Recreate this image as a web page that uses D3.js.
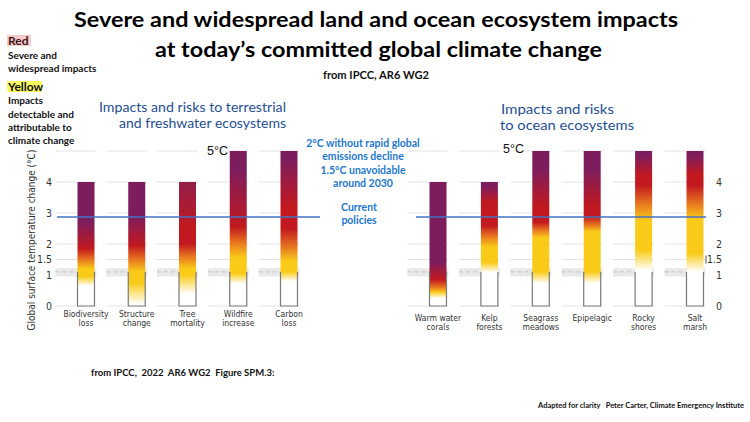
<!DOCTYPE html>
<html>
<head>
<meta charset="utf-8">
<script src="https://cdn.jsdelivr.net/npm/d3@7/dist/d3.min.js"></script>
<style>
  html, body { margin: 0; padding: 0; background: #ffffff; }
  svg { display: block; }
</style>
</head>
<body>
<svg id="chart" width="750" height="422"></svg>
<script>
// ---------------- DATA ----------------
const leftCategories = [["Biodiversity", "loss"], ["Structure", "change"], ["Tree", "mortality"], ["Wildfire", "increase"], ["Carbon", "loss"]];
const leftTops = [4, 4, 4, 5, 5];
const leftStops = [
  [[0.65, "w"], [0.95, "y"], [1.2, "y"], [1.5, "o"], [1.85, "r"], [2.7, "p"], [4, "p"]],
  [[0.05, "w"], [0.75, "y"], [1.1, "y"], [1.5, "o"], [1.95, "r"], [2.9, "p"], [4, "p"]],
  [[0.4, "w"], [1.0, "y"], [1.2, "y"], [1.6, "o"], [2.0, "r"], [2.5, "r"], [4, "c"]],
  [[0.72, "w"], [1.05, "y"], [1.55, "y"], [2.05, "o"], [2.55, "r"], [4.4, "p"], [5, "p"]],
  [[0.8, "w"], [1.1, "y"], [1.45, "y"], [1.9, "o"], [2.5, "r"], [3.2, "r"], [4.7, "p"], [5, "p"]]
];
const rightCategories = [["Warm water", "corals"], ["Kelp", "forests"], ["Seagrass", "meadows"], ["Epipelagic", ""], ["Rocky", "shores"], ["Salt", "marsh"]];
const rightTops = [4, 4, 5, 5, 5, 5];
const rightStops = [
  [[0.25, "w"], [0.45, "y"], [0.6, "o"], [0.85, "r"], [1.4, "p"], [4, "p"]],
  [[1.08, "w"], [1.4, "y"], [1.9, "y"], [2.25, "o"], [2.6, "r"], [3.35, "r"], [3.85, "p"], [4, "p"]],
  [[0.73, "w"], [1.1, "y"], [2.2, "y"], [2.45, "o"], [2.7, "r"], [3.2, "r"], [4.4, "p"], [5, "p"]],
  [[0.73, "w"], [1.1, "y"], [2.4, "y"], [2.6, "o"], [2.9, "r"], [3.2, "r"], [4.4, "p"], [5, "p"]],
  [[1.15, "w"], [1.8, "y"], [2.75, "y"], [3.3, "o"], [3.9, "r"], [4.2, "r"], [4.85, "p"], [5, "p"]],
  [[1.1, "w"], [1.7, "y"], [2.8, "y"], [3.3, "o"], [3.9, "r"], [4.25, "r"], [4.85, "p"], [5, "p"]]
];
const yTicks = [0, 1, 1.5, 2, 3, 4];
const gridValues = [0, 1.5, 2, 3, 4, 5];
const observedBand = [0.95, 1.22];
const observedLine = 1.1;
const boxTop = 1.1;
const currentPolicies = 2.87;
const palette = { w: "#ffffff", y: "#f9cb18", o: "#e8761f", r: "#c1191f", p: "#7e1d5d", c: "#931f4a" };

const titleLines = ["Severe and widespread land and ocean ecosystem impacts", "at today\u2019s committed global climate change"];
const subtitle = "from IPCC, AR6 WG2";
const leftPanelTitle = ["Impacts and risks to terrestrial", "and freshwater ecosystems"];
const rightPanelTitle = ["Impacts and risks", "to ocean ecosystems"];
const blueNote = ["2\u00b0C without rapid global", "emissions decline", "1.5\u00b0C unavoidable", "around 2030"];
const policyNote = ["Current", "policies"];
const legendRed = ["Severe and", "widespread impacts"];
const legendYellow = ["Impacts", "detectable and", "attributable to", "climate change"];
const yAxisTitle = "Global surface temperature change (\u00b0C)";
const footerLeft = "from IPCC,  2022  AR6 WG2  Figure SPM.3:";
const footerRight = "Adapted for clarity   Peter Carter, Climate Emergency Institute";

// ---------------- DRAW ----------------
const svg = d3.select("#chart");
const defs = svg.append("defs");
const narrow = "'Liberation Sans Narrow', 'DejaVu Sans Condensed', 'Roboto Condensed', sans-serif";
const calib = "Lato, 'Open Sans', sans-serif";

const y = d3.scaleLinear().domain([0, 5]).range([306, 151]);
const xL = d3.scalePoint().domain(d3.range(leftCategories.length)).range([86, 289]);
const xR = d3.scalePoint().domain(d3.range(rightCategories.length)).range([438, 695]);
const barW = 17;

function panel(g, cats, tops, stops, x, prefix, labelY) {
  const cols = g.selectAll("g.col").data(cats.map((c, i) => ({ c, i, top: tops[i], stops: stops[i] })))
    .enter().append("g").attr("class", "col");

  cols.each(function (d) {
    const cx = x(d.i), l = cx - barW / 2 - 22, r = cx + barW / 2 + 2;
    const s = d3.select(this);
    s.selectAll("line.grid").data(gridValues).enter().append("line")
      .attr("x1", l).attr("x2", r).attr("y1", v => y(v)).attr("y2", v => y(v))
      .attr("stroke", "#e4e4e4").attr("stroke-width", 1);
    s.append("rect").attr("x", l).attr("width", r - l)
      .attr("y", y(observedBand[1])).attr("height", y(observedBand[0]) - y(observedBand[1]))
      .attr("fill", "#e9e9e9");
    s.append("line").attr("x1", l).attr("x2", r).attr("y1", y(observedLine)).attr("y2", y(observedLine))
      .attr("stroke", "#c4c4c4").attr("stroke-width", 1).attr("stroke-dasharray", "4,3");
  });

  cols.each(function (d) {
    const id = prefix + d.i;
    const lg = defs.append("linearGradient").attr("id", id)
      .attr("gradientUnits", "userSpaceOnUse")
      .attr("x1", 0).attr("x2", 0).attr("y1", y(0)).attr("y2", y(d.top));
    lg.selectAll("stop").data(d.stops).enter().append("stop")
      .attr("offset", s => s[0] / d.top)
      .attr("stop-color", s => palette[s[1]]);
  });

  cols.append("rect")
    .attr("x", d => x(d.i) - barW / 2).attr("width", barW)
    .attr("y", d => y(d.top)).attr("height", d => y(0) - y(d.top))
    .attr("fill", d => "url(#" + prefix + d.i + ")");

  cols.append("path")
    .attr("d", d => {
      const l = x(d.i) - barW / 2, r = x(d.i) + barW / 2;
      return `M${l},${y(boxTop)}V${y(0)}H${r}V${y(boxTop)}`;
    })
    .attr("fill", "none").attr("stroke", "#7a7a7a").attr("stroke-width", 1.2);

  cols.each(function (d) {
    const s = d3.select(this);
    d.c.forEach((line, k) => {
      if (!line) return;
      s.append("text").attr("x", x(d.i)).attr("y", labelY + k * 9)
        .attr("text-anchor", "middle").attr("font-family", narrow).attr("font-size", 8.5)
        .attr("fill", "#333").text(line);
    });
  });
}

const gL = svg.append("g");
panel(gL, leftCategories, leftTops, leftStops, xL, "gl", 317);
const gR = svg.append("g");
panel(gR, rightCategories, rightTops, rightStops, xR, "gr", 321);

const axL = svg.append("g").attr("transform", "translate(55,0)")
  .call(d3.axisLeft(y).tickValues(yTicks).tickSize(0).tickPadding(3).tickFormat(d3.format("")));
const axR = svg.append("g").attr("transform", "translate(725,0)")
  .call(d3.axisLeft(y).tickValues(yTicks).tickSize(0).tickPadding(3).tickFormat(d3.format("")));
[axL, axR].forEach(a => {
  a.select(".domain").remove();
  a.selectAll("text").attr("font-family", narrow).attr("font-size", 10.5).attr("fill", "#333");
});
svg.append("line").attr("x1", 706).attr("x2", 706).attr("y1", y(1.5) - 4).attr("y2", y(1.5) + 4)
  .attr("stroke", "#555").attr("stroke-width", 1);

svg.append("text").attr("transform", `translate(35,${240}) rotate(-90)`)
  .attr("text-anchor", "middle").attr("font-family", narrow).attr("font-size", 10).attr("fill", "#333")
  .text(yAxisTitle);

[[57, 320], [416, 706]].forEach(seg => {
  svg.append("line").attr("x1", seg[0]).attr("x2", seg[1])
    .attr("y1", y(currentPolicies)).attr("y2", y(currentPolicies))
    .attr("stroke", "#4472c4").attr("stroke-width", 1.6);
});

svg.append("text").attr("x", 207).attr("y", 155).attr("font-family", "'Liberation Sans', Arial, sans-serif")
  .attr("font-size", 12.5).attr("fill", "#111").text("5\u00b0C");
svg.append("text").attr("x", 503).attr("y", 153).attr("font-family", "'Liberation Sans', Arial, sans-serif")
  .attr("font-size", 12.5).attr("fill", "#111").text("5\u00b0C");

const ptColor = "#1f4f93";
const ptFont = "Lato, 'Open Sans', sans-serif";
svg.append("text").attr("x", 99).attr("y", 112).attr("font-family", ptFont).attr("font-size", 13)
  .attr("fill", ptColor).attr("textLength", 187).attr("lengthAdjust", "spacingAndGlyphs").text(leftPanelTitle[0]);
svg.append("text").attr("x", 119).attr("y", 128).attr("font-family", ptFont).attr("font-size", 13)
  .attr("fill", ptColor).attr("textLength", 167).attr("lengthAdjust", "spacingAndGlyphs").text(leftPanelTitle[1]);
svg.append("text").attr("x", 501).attr("y", 114).attr("font-family", ptFont).attr("font-size", 13)
  .attr("fill", ptColor).attr("textLength", 113).attr("lengthAdjust", "spacingAndGlyphs").text(rightPanelTitle[0]);
svg.append("text").attr("x", 500).attr("y", 130).attr("font-family", ptFont).attr("font-size", 13)
  .attr("fill", ptColor).attr("textLength", 134).attr("lengthAdjust", "spacingAndGlyphs").text(rightPanelTitle[1]);

const noteColor = "#2378cc";
blueNote.forEach((t, i) => {
  svg.append("text").attr("x", 363).attr("y", 147 + i * 13.4).attr("text-anchor", "middle")
    .attr("font-family", calib).attr("font-weight", "bold").attr("font-size", 10.5).attr("fill", noteColor).text(t);
});
policyNote.forEach((t, i) => {
  svg.append("text").attr("x", 359).attr("y", 211 + i * 13.4).attr("text-anchor", "middle")
    .attr("font-family", calib).attr("font-weight", "bold").attr("font-size", 10.5).attr("fill", noteColor).text(t);
});

svg.append("text").attr("x", 74).attr("y", 27).attr("font-family", calib).attr("font-weight", "bold")
  .attr("font-size", 21).attr("fill", "#000").attr("textLength", 604).attr("lengthAdjust", "spacingAndGlyphs").text(titleLines[0]);
svg.append("text").attr("x", 155).attr("y", 57).attr("font-family", calib).attr("font-weight", "bold")
  .attr("font-size", 21).attr("fill", "#000").attr("textLength", 447).attr("lengthAdjust", "spacingAndGlyphs").text(titleLines[1]);
svg.append("text").attr("x", 323).attr("y", 79).attr("font-family", calib).attr("font-weight", "bold")
  .attr("font-size", 10.5).attr("fill", "#111").attr("textLength", 106).attr("lengthAdjust", "spacingAndGlyphs").text(subtitle);

svg.append("rect").attr("x", 7).attr("y", 35).attr("width", 24).attr("height", 11).attr("fill", "#f7c9c9");
svg.append("text").attr("x", 8).attr("y", 45).attr("font-family", calib).attr("font-weight", "bold")
  .attr("font-size", 12).attr("fill", "#3a1414").text("Red");
legendRed.forEach((t, i) => {
  svg.append("text").attr("x", 8).attr("y", 58.5 + i * 13.3).attr("font-family", calib).attr("font-weight", "bold")
    .attr("font-size", 10).attr("fill", "#111").text(t);
});
svg.append("rect").attr("x", 7).attr("y", 81).attr("width", 35).attr("height", 11).attr("fill", "#fbfb5f");
svg.append("text").attr("x", 8).attr("y", 91).attr("font-family", calib).attr("font-weight", "bold")
  .attr("font-size", 12).attr("fill", "#111").text("Yellow");
legendYellow.forEach((t, i) => {
  svg.append("text").attr("x", 8).attr("y", 104.3 + i * 13.3).attr("font-family", calib).attr("font-weight", "bold")
    .attr("font-size", 10).attr("fill", "#111").text(t);
});

svg.append("text").attr("x", 91).attr("y", 376).attr("font-family", calib).attr("font-weight", "bold")
  .attr("font-size", 9.5).attr("fill", "#111").attr("xml:space", "preserve").text(footerLeft);
svg.append("text").attr("x", 744).attr("y", 408).attr("text-anchor", "end").attr("font-family", calib).attr("font-weight", "bold")
  .attr("font-size", 7.5).attr("fill", "#111").attr("xml:space", "preserve").text(footerRight);
</script>
</body>
</html>
